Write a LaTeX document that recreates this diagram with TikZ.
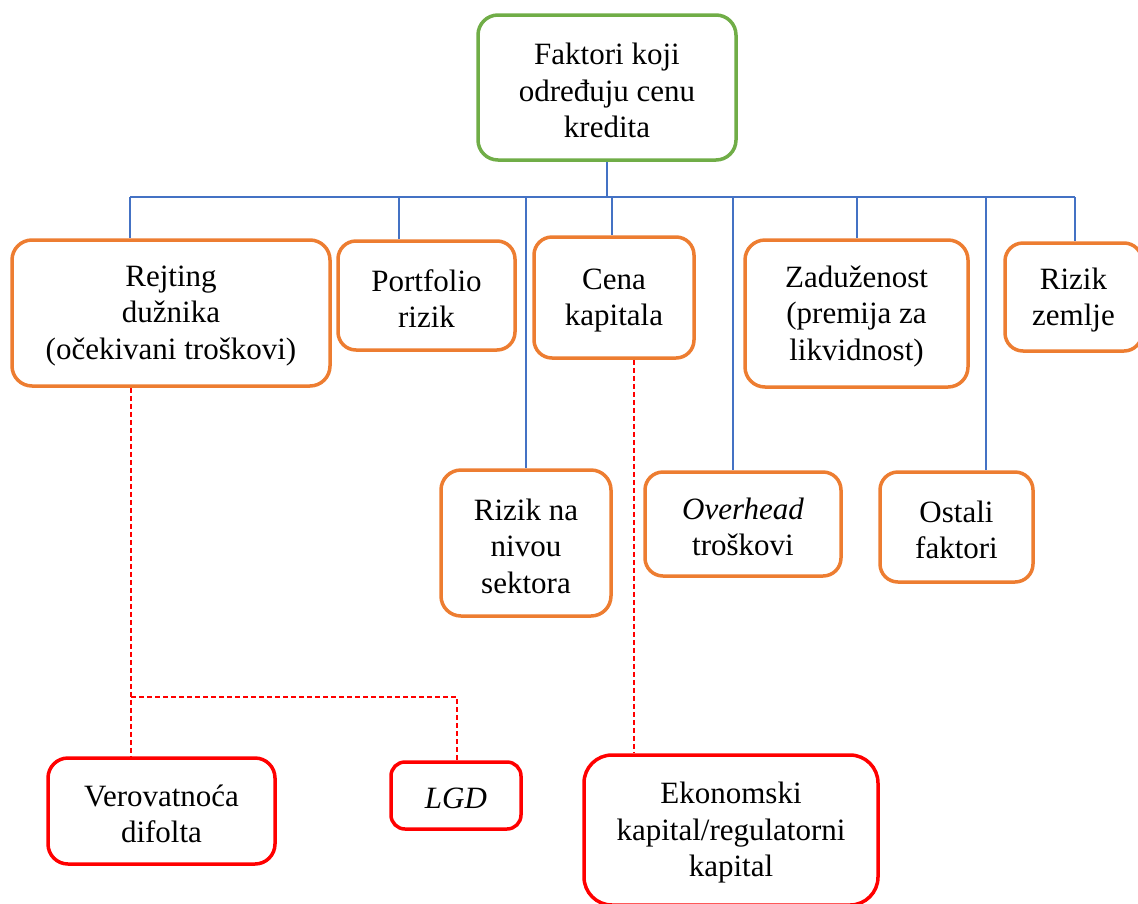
\documentclass[tikz,border=0pt]{standalone}
\usepackage{fontspec}
\setmainfont{Liberation Serif}
\begin{document}
\begin{tikzpicture}[x=1pt,y=-1pt,
  box/.style={draw, rounded corners=#1, line width=3.5pt, fill=white, inner sep=0pt},
  box/.default=20pt,
  greenbox/.style={box, draw=rootgreen},
  orangebox/.style={box, draw=factororange},
  redbox/.style={box, draw=subred},
  txt/.style={align=center, inner sep=0pt, yshift=-3pt,
    font=\fontsize{31}{36.5}\selectfont},
  bus/.style={draw=busblue, line width=1.3pt},
  reddash/.style={draw=subred, line width=1.2pt, dash pattern=on 5pt off 3pt}]
\definecolor{rootgreen}{HTML}{70AD47}
\definecolor{factororange}{HTML}{ED7D31}
\definecolor{busblue}{HTML}{4472C4}
\definecolor{subred}{HTML}{FF0000}

\useasboundingbox (0,0) rectangle (1138,903);
\clip (0,0) rectangle (1138,903);

% bus and drop coordinates
\coordinate (busL) at (130,197);
\coordinate (busR) at (1075,197);
\coordinate (dPort) at (399,197);
\coordinate (dSekt) at (526,197);
\coordinate (dCena) at (612,197);
\coordinate (dOver) at (733,197);
\coordinate (dZad) at (857,197);
\coordinate (dOst) at (986,197);
\coordinate (rL) at (131,697);
\coordinate (rR) at (457,697);
\coordinate (rC) at (634,0);

% root
\node[greenbox, minimum width=258pt, minimum height=145pt] (root) at (607,87.5) {};
\node[txt] (root-t) at (root) {Faktori koji\\ određuju cenu\\ kredita};

% first row
\node[orangebox, minimum width=318pt, minimum height=146pt] (rejt) at (171,313) {};
\node[txt] (rejt-t) at (rejt) {Rejting\\ dužnika\\ (očekivani troškovi)};
\node[orangebox, minimum width=177pt, minimum height=109pt, box=18pt] (port) at (426.5,295.5) {};
\node[txt] (port-t) at (port) {Portfolio\\ rizik};
\node[orangebox, minimum width=160pt, minimum height=121pt, box=18pt] (cena) at (614,297.5) {};
\node[txt] (cena-t) at (cena) {Cena\\ kapitala};
\node[orangebox, minimum width=223pt, minimum height=147pt] (zad) at (856.5,313.5) {};
\node[txt] (zad-t) at (zad) {Zaduženost\\ (premija za\\ likvidnost)};
\node[orangebox, minimum width=137pt, minimum height=108pt, box=18pt] (zem) at (1073.5,297) {};
\node[txt] (zem-t) at (zem) {Rizik\\ zemlje};

% second row
\node[orangebox, minimum width=170pt, minimum height=146pt] (sekt) at (526,543) {};
\node[txt] (sekt-t) at (sekt) {Rizik na\\ nivou\\ sektora};
\node[orangebox, minimum width=196pt, minimum height=104pt, box=18pt] (over) at (743,524) {};
\node[txt] (over-t) at (over) {\textit{Overhead}\\ troškovi};
\node[orangebox, minimum width=153pt, minimum height=110pt, box=18pt] (ost) at (956.5,527) {};
\node[txt] (ost-t) at (ost) {Ostali\\ faktori};

% third row
\node[redbox, minimum width=227pt, minimum height=106pt] (pd) at (161.5,811) {};
\node[txt] (pd-t) at (pd) {Verovatnoća\\ difolta};
\node[redbox, minimum width=130pt, minimum height=67pt, box=14pt] (lgd) at (456,795.5) {};
\node[txt] (lgd-t) at (lgd) {\textit{LGD}};
\node[redbox, minimum width=294pt, minimum height=150pt, box=28pt] (ek) at (731,830) {};
\node[txt] (ek-t) at (ek) {Ekonomski\\ kapital/regulatorni\\ kapital};

% blue tree
\draw[bus] (root.south) -- (root.south |- busL);
\draw[bus] (busL) -- (busR);
\draw[bus] (busL) -- (busL |- rejt.north);
\draw[bus] (dPort) -- (dPort |- port.north);
\draw[bus] (dSekt) -- (dSekt |- sekt.north);
\draw[bus] (dCena) -- (dCena |- cena.north);
\draw[bus] (dOver) -- (dOver |- over.north);
\draw[bus] (dZad) -- (dZad |- zad.north);
\draw[bus] (dOst) -- (dOst |- ost.north);
\draw[bus] (busR) -- (busR |- zem.north);

% red dashed links
\draw[reddash] (rL |- rejt.south) -- (rL |- pd.north);
\draw[reddash] (rL) -- (rR) -- (rR |- lgd.north);
\draw[reddash] (rC |- cena.south) -- (rC |- ek.north);
\end{tikzpicture}
\end{document}
